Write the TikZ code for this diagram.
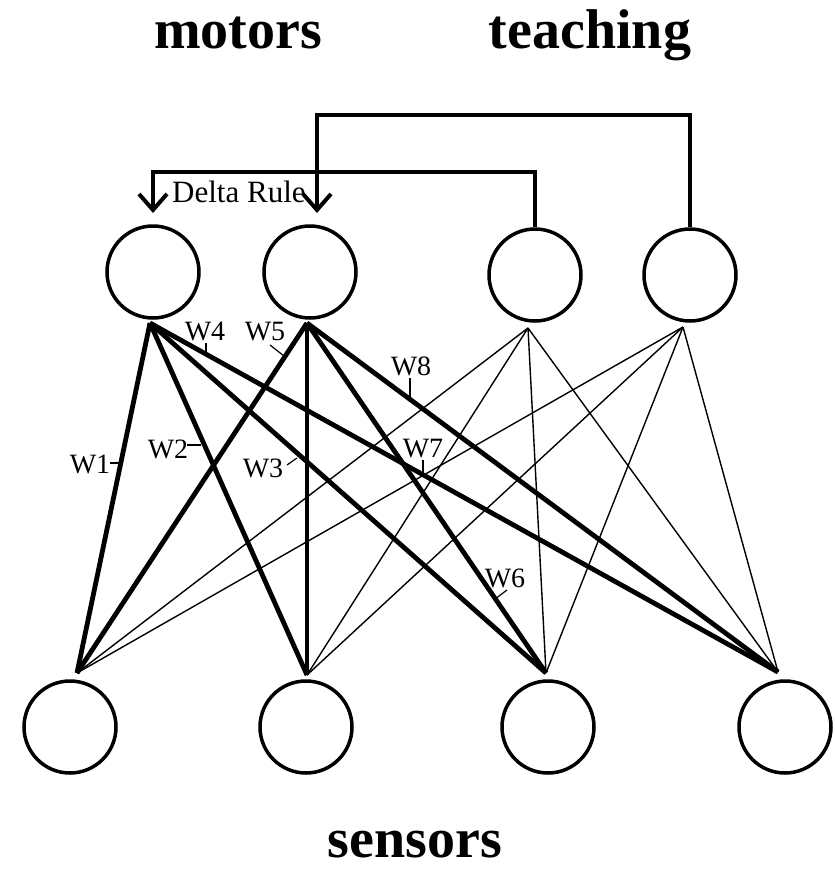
\documentclass[tikz,border=0pt]{standalone}
\usepackage{fontspec}
\setmainfont{Liberation Serif}
\usetikzlibrary{arrows.meta}
\tikzset{
  neuron/.style={circle, draw, line width=3.5pt, minimum size=92pt, inner sep=0pt},
  heavy/.style={line width=4.8pt},
  light/.style={line width=1.4pt},
  feedback/.style={line width=4pt, line join=miter},
  fbarrow/.style={-{Straight Barb[length=16pt, width=28pt]}},
  title/.style={font=\bfseries\fontsize{56}{60}\selectfont, anchor=base, inner sep=0pt},
  wlab/.style={font=\fontsize{28}{30}\selectfont, anchor=base, inner sep=0pt},
  dlab/.style={font=\fontsize{31}{34}\selectfont, anchor=base west, inner sep=0pt},
  wtick/.style={line width=1.2pt},
}
\begin{document}
\begin{tikzpicture}[x=1pt, y=-1pt]
\fill[white] (0,0) rectangle (835,871);
\useasboundingbox (0,0) rectangle (835,871);

% titles
\node[title] (motors) at (238,48) {motors};
\node[title] (teaching) at (590,48) {teaching};
\node[title] (sensors) at (415,857) {sensors};

% neurons
\node[neuron] (m1) at (153,272) {};
\node[neuron] (m2) at (310,272) {};
\node[neuron] (t1) at (535,275) {};
\node[neuron] (t2) at (690,275) {};
\node[neuron] (s1) at (70,727) {};
\node[neuron] (s2) at (306,727) {};
\node[neuron] (s3) at (548,727) {};
\node[neuron] (s4) at (785,727) {};

% convergence points
\coordinate (m1b) at (150,323);
\coordinate (m2b) at (307,323);
\coordinate (t1b) at (528,328);
\coordinate (t2b) at (683,327);
\coordinate (s1t) at (77,673);
\coordinate (s2t) at (307,675);
\coordinate (s3t) at (546,673);
\coordinate (s4t) at (778,672);

% thin connections from teaching units
\foreach \s in {s1t,s2t,s3t,s4t}{
  \draw[light] (t1b) -- (\s);
  \draw[light] (t2b) -- (\s);
}
% heavy connections from motor units
\foreach \s in {s1t,s3t,s4t}{
  \draw[heavy] (m1b) -- (\s);
  \draw[heavy] (m2b) -- (\s);
}
\draw[heavy] (m1b) -- (s2t);
\draw[line width=3.5pt] (m2b) -- (s2t);

% feedback (teaching -> motors)
\coordinate (dl) at (153,172);
\coordinate (m1a) at (153,213);
\coordinate (tl) at (317,115);
\coordinate (m2a) at (317,213);
\draw[feedback, fbarrow] (t1.north) |- (dl) -- (m1a);
\draw[feedback, fbarrow] (t2.north) |- (tl) -- (m2a);
\node[dlab] (delta) at (172,202) {Delta Rule};

% weight labels
\node[wlab] (w4) at (205,340) {W4};
\node[wlab] (w5) at (265,340) {W5};
\node[wlab] (w8) at (411,375) {W8};
\node[wlab] (w2) at (168,458) {W2};
\node[wlab] (w1) at (90,473) {W1};
\node[wlab] (w3) at (263,477) {W3};
\node[wlab] (w7) at (423,457) {W7};
\node[wlab] (w6) at (505,587) {W6};

\draw[wtick] (206,343) -- (206,354);
\draw[wtick] (270,345) -- (284,356);
\draw[wtick] (410,378) -- (410,399);
\draw[wtick] (187,445) -- (201,445);
\draw[wtick] (110,463) -- (121,463);
\draw[wtick] (287,465) -- (297,458);
\draw[wtick] (423,460) -- (423,474);
\draw[wtick] (507,590) -- (495,599);
\end{tikzpicture}
\end{document}
